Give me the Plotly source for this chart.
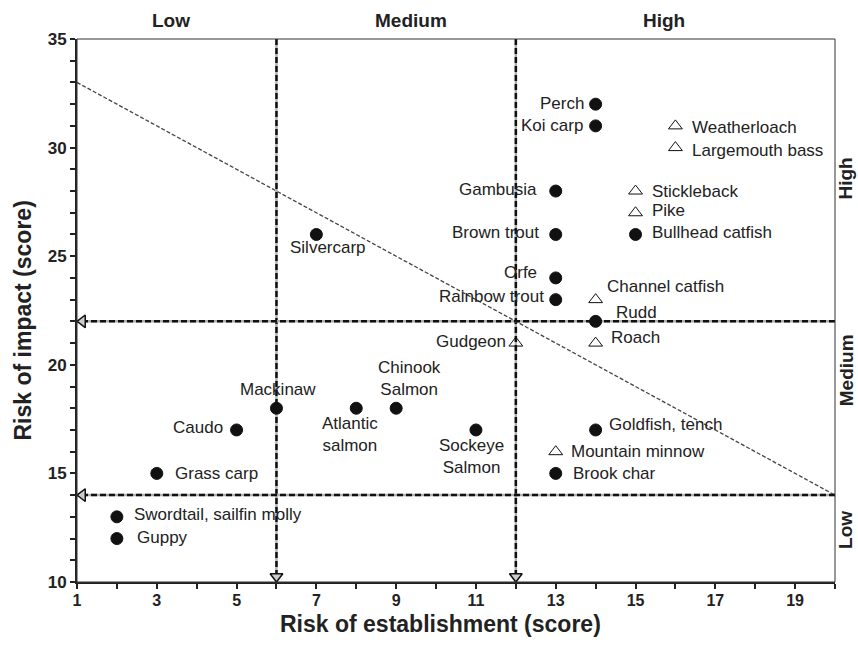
import plotly.graph_objects as go

# ---------------- data ----------------
est_names = ["Perch", "Koi carp", "Gambusia", "Brown trout", "Bullhead catfish", "Orfe",
             "Rainbow trout", "Rudd", "Silvercarp", "Mackinaw", "Atlantic<br>salmon",
             "Chinook<br>Salmon", "Caudo", "Sockeye<br>Salmon", "Goldfish, tench",
             "Brook char", "Grass carp", "Swordtail, sailfin molly", "Guppy"]
est_x = [14, 14, 13, 13, 15, 13, 13, 14, 7, 6, 8, 9, 5, 11, 14, 13, 3, 2, 2]
est_y = [32, 31, 28, 26, 26, 24, 23, 22, 26, 18, 18, 18, 17, 17, 17, 15, 15, 13, 12]

new_names = ["Weatherloach", "Largemouth bass", "Stickleback", "Pike", "Channel catfish",
             "Gudgeon", "Roach", "Mountain minnow"]
new_x = [16, 16, 15, 15, 14, 12, 14, 13]
new_y = [31, 30, 28, 27, 23, 21, 21, 16]

establishment_cuts = [6, 12]      # vertical thresholds (x)
impact_cuts = [22, 14]            # horizontal thresholds (y)
diag_x = [1, 20]
diag_y = [33, 14]

x_range = [1, 20]
y_range = [10, 35]

zone_labels = ["Low", "Medium", "High"]
x_title = "Risk of establishment (score)"
y_title = "Risk of impact (score)"

# ---------------- styling / placement ----------------
FONT = "Liberation Sans, Arial, Helvetica, sans-serif"
LBL = 17

place = {
    "Perch": ("right", "middle", -10, 1),
    "Koi carp": ("right", "middle", -11, 0),
    "Gambusia": ("right", "middle", -17, 2),
    "Brown trout": ("right", "middle", -15, 2),
    "Orfe": ("right", "middle", -17, 5),
    "Rainbow trout": ("right", "middle", -10, 3),
    "Gudgeon": ("right", "middle", -8, 2),
    "Caudo": ("right", "middle", -12, 2),
    "Bullhead catfish": ("left", "middle", 14, 2),
    "Stickleback": ("left", "middle", 14, 0),
    "Pike": ("left", "middle", 14, 2),
    "Weatherloach": ("left", "middle", 15, -2),
    "Largemouth bass": ("left", "middle", 15, -3),
    "Channel catfish": ("left", "middle", 9, 13),
    "Rudd": ("left", "middle", 18, 9),
    "Roach": ("left", "middle", 13, 6),
    "Goldfish, tench": ("left", "middle", 11, 5),
    "Mountain minnow": ("left", "middle", 13, 0),
    "Brook char": ("left", "middle", 15, 0),
    "Grass carp": ("left", "middle", 16, 0),
    "Swordtail, sailfin molly": ("left", "middle", 15, 2),
    "Guppy": ("left", "middle", 18, 1),
    "Silvercarp": ("center", "middle", 12, -13),
    "Mackinaw": ("center", "middle", 2, 19),
    "Atlantic<br>salmon": ("center", "top", -6, -4),
    "Chinook<br>Salmon": ("center", "bottom", 13, 7),
    "Sockeye<br>Salmon": ("center", "top", -4, -4),
}

fig = go.Figure()

# diagonal boundary
fig.add_trace(go.Scatter(x=diag_x, y=diag_y, mode="lines",
                         line=dict(color="#444444", width=1.3, dash="4px,2px"),
                         hoverinfo="skip", showlegend=False))

ARROW_SIZE = 11
ARROW = dict(symbol="triangle-up", size=ARROW_SIZE, standoff=ARROW_SIZE / 2,
             color="#cccccc", line=dict(color="#111111", width=1.5))

# vertical thresholds with arrows at bottom
for xc in establishment_cuts:
    xs = [xc, xc]
    ys = [y_range[1], y_range[0]]
    fig.add_trace(go.Scatter(x=xs, y=ys, mode="lines",
                             line=dict(color="#b0b0b0", width=2.5),
                             hoverinfo="skip", showlegend=False))
    fig.add_trace(go.Scatter(x=xs, y=ys, mode="lines",
                             line=dict(color="#111111", width=2.5, dash="6px,3px"),
                             hoverinfo="skip", showlegend=False))
    fig.add_trace(go.Scatter(x=[xs[1]], y=[ys[1]], mode="markers",
                             marker=dict(ARROW, angle=180),
                             hoverinfo="skip", showlegend=False, cliponaxis=False))

# horizontal thresholds with arrows at left
for yc in impact_cuts:
    xs = [x_range[1], x_range[0]]
    ys = [yc, yc]
    fig.add_trace(go.Scatter(x=xs, y=ys, mode="lines",
                             line=dict(color="#b0b0b0", width=2.5),
                             hoverinfo="skip", showlegend=False))
    fig.add_trace(go.Scatter(x=xs, y=ys, mode="lines",
                             line=dict(color="#111111", width=2.5, dash="6px,3px"),
                             hoverinfo="skip", showlegend=False))
    fig.add_trace(go.Scatter(x=[xs[1]], y=[ys[1]], mode="markers",
                             marker=dict(ARROW, angle=-90),
                             hoverinfo="skip", showlegend=False, cliponaxis=False))

# established species (filled)
fig.add_trace(go.Scatter(x=est_x, y=est_y, mode="markers",
                         marker=dict(symbol="circle", size=12, color="#111111",
                                     line=dict(color="#111111", width=1)),
                         showlegend=False, cliponaxis=False))
# potential species (open triangles)
fig.add_trace(go.Scatter(x=new_x, y=new_y, mode="markers",
                         marker=dict(symbol="triangle-up-open", size=12, color="#111111",
                                     line=dict(width=1)),
                         showlegend=False, cliponaxis=False))

ann = []
for names, xs, ys in ((est_names, est_x, est_y), (new_names, new_x, new_y)):
    for n, xv, yv in zip(names, xs, ys):
        xa, ya, dx, dy = place[n]
        ann.append(dict(x=xv, y=yv, xref="x", yref="y", text=n, showarrow=False,
                        xanchor=xa, yanchor=ya, xshift=dx, yshift=dy,
                        align="center", font=dict(family=FONT, size=LBL, color="#222222")))

# zone labels top
top_pos = [0.124, 0.4406, 0.774]
for t, px in zip(zone_labels, top_pos):
    ann.append(dict(x=px, y=1, xref="paper", yref="paper", text="<b>%s</b>" % t,
                    showarrow=False, xanchor="center", yanchor="middle", yshift=19,
                    font=dict(family=FONT, size=19, color="#222222")))
# zone labels right
right_pos = [0.0958, 0.39, 0.743]
for t, py in zip(zone_labels, right_pos):
    ann.append(dict(x=1, y=py, xref="paper", yref="paper", text="<b>%s</b>" % t,
                    showarrow=False, xanchor="center", yanchor="middle", xshift=11,
                    textangle=-90, font=dict(family=FONT, size=19, color="#222222")))

# axis titles
ann.append(dict(x=0.5, y=0, xref="paper", yref="paper", text="<b>%s</b>" % x_title,
                showarrow=False, xanchor="center", yanchor="middle", xshift=-16, yshift=-42,
                font=dict(family=FONT, size=23, color="#222222")))
ann.append(dict(x=0, y=0.5, xref="paper", yref="paper", text="<b>%s</b>" % y_title,
                showarrow=False, xanchor="center", yanchor="middle", xshift=-55, yshift=-10,
                textangle=-90, font=dict(family=FONT, size=23, color="#222222")))

fig.update_layout(
    width=858, height=646,
    margin=dict(l=77, r=23, t=39, b=64),
    paper_bgcolor="white", plot_bgcolor="white",
    annotations=ann,
    shapes=[dict(type="rect", xref="paper", yref="paper", x0=0, y0=0, x1=1, y1=1,
                 line=dict(color="#333333", width=1), layer="above")],
    showlegend=False,
)
fig.update_xaxes(range=x_range, tickmode="linear", tick0=1, dtick=2,
                 showgrid=False, zeroline=False, showline=True, linecolor="#222222", linewidth=2,
                 ticks="outside", ticklen=5, tickwidth=1.5, tickcolor="#222222",
                 ticklabelstandoff=-2,
                 tickfont=dict(family=FONT, size=16, color="#222222", weight="bold"),
                 minor=dict(dtick=1, tick0=1, ticks="outside", ticklen=5, tickwidth=1.5,
                            tickcolor="#222222", showgrid=False))
fig.update_yaxes(range=y_range, tickmode="linear", tick0=10, dtick=5,
                 showgrid=False, zeroline=False, showline=True, linecolor="#222222", linewidth=2,
                 ticks="outside", ticklen=5, tickwidth=1.5, tickcolor="#222222",
                 tickfont=dict(family=FONT, size=17, color="#222222", weight="bold"),
                 minor=dict(dtick=1, tick0=10, ticks="outside", ticklen=5, tickwidth=1.5,
                            tickcolor="#222222", showgrid=False))

fig.write_html("out.html", config={"displayModeBar": False},
               post_script="document.body.style.margin='0';document.body.style.overflow='hidden';")
